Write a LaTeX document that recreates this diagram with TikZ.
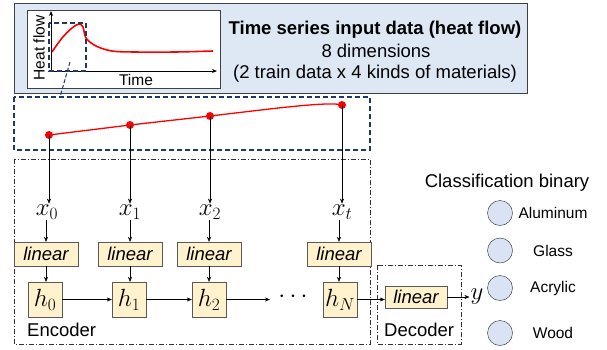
\documentclass[tikz,border=0pt]{standalone}
\usepackage{fontspec}
\setmainfont{Liberation Sans}
\usetikzlibrary{arrows.meta}

\definecolor{panelblue}{HTML}{DEE8F4}
\definecolor{navy}{HTML}{1F3864}
\definecolor{cream}{HTML}{FFF2CC}
\definecolor{nodeblue}{HTML}{DAE3F3}

\tikzset{
	>={Stealth[length=5pt,width=4pt]},
	txt/.style={inner sep=0pt, font=\fontsize{18.5}{21}\selectfont},
	small/.style={inner sep=0pt, font=\fontsize{15.5}{18}\selectfont},
	mathlbl/.style={inner sep=1pt, font=\fontsize{26}{28}\selectfont},
	linbox/.style={draw=black!65, fill=cream, minimum width=64pt, minimum height=24pt, inner sep=0pt, font=\fontsize{18.5}{21}\selectfont\itshape},
	hbox/.style={draw=black!65, fill=cream, minimum width=34pt, minimum height=35pt, inner sep=0pt, font=\fontsize{26}{28}\selectfont},
	rpoint/.style={circle, fill=red, inner sep=0pt, minimum size=8pt},
	classnode/.style={circle, draw=black!85, fill=nodeblue, minimum size=25pt, inner sep=0pt},
	navydash/.style={draw=navy, line width=1.5pt, dash pattern=on 5pt off 3pt},
	dashdot/.style={draw=black!80, line width=0.6pt, dash pattern=on 5pt off 2pt on 1pt off 2pt}
}

\begin{document}
\begin{tikzpicture}[x=1pt, y=-1pt]
	\useasboundingbox (0,0) rectangle (607,349);

	% input data panel
	\draw[black!75, fill=panelblue] (14,3) rectangle (527,93);
	\draw[black!75, fill=white] (27,10) rectangle (220,88);
	\draw[->, thick] (51,71) -- (51,11);
	\draw[->, thick] (51,71) -- (217,71);
	\draw[red, line width=1.6pt] plot[smooth, tension=0.55] coordinates {(52,52) (62,38) (72,28) (79,24) (83,27) (86,38) (96,46) (112,51) (135,52) (175,52) (213,51)};
	\draw[navydash] (49,23) rectangle (86,71);
	\node[small, rotate=90] (hflow) at (39,48) {Heat flow};
	\node[small] (time) at (136,80) {Time};
	\node[txt, font=\fontsize{18.5}{21}\selectfont\bfseries] (title) at (375,30) {Time series input data (heat flow)};
	\node[txt] (dims) at (376,51) {8 dimensions};
	\node[txt] (train) at (375,74) {(2 train data x 4 kinds of materials)};

	% zoomed series
	\draw[navydash] (14,97) rectangle (370,150);
	\draw[navy, line width=1pt, dash pattern=on 4pt off 2pt] (70,62) -- (60,97);
	\node[rpoint] (p0) at (49,135) {};
	\node[rpoint] (p1) at (130,125) {};
	\node[rpoint] (p2) at (210,116) {};
	\node[rpoint] (pt) at (342,105) {};
	\draw[red, line width=1.3pt] (p0.center) -- (p1.center) -- (p2.center) .. controls (270,109) and (330,101) .. (pt.center);

	% encoder / decoder frames
	\draw[dashdot] (14,159) rectangle (370,344);
	\draw[dashdot] (377,265) rectangle (461,344);
	\node[txt, anchor=west] (enc) at (27,330) {Encoder};
	\node[txt, anchor=west] (dec) at (384,330) {Decoder};

	% inputs
	\node[mathlbl] (x0) at (47,212) {$x_0$};
	\node[mathlbl] (x1) at (130,212) {$x_1$};
	\node[mathlbl] (x2) at (210,212) {$x_2$};
	\node[mathlbl] (xt) at (342,212) {$x_t$};

	\node[linbox] (l0) at (46,254) {linear};
	\node[linbox] (l1) at (130,254) {linear};
	\node[linbox] (l2) at (209,254) {linear};
	\node[linbox] (lt) at (339,254) {linear};

	\node[hbox] (h0) at (45,299.5) {$h_0$};
	\node[hbox] (h1) at (129,299.5) {$h_1$};
	\node[hbox] (h2) at (209,299.5) {$h_2$};
	\node[hbox] (hN) at (340,299.5) {$h_N$};
	\node[mathlbl] (dots) at (293,297) {$\cdots$};
	\coordinate (hend) at (270,299.5);

	\foreach \i in {0,1,2,t} {
		\draw[->] (p\i.center) -- (x\i.north -| p\i);
		\draw[->] (x\i.south -| l\i) -- (l\i.north);
	}
	\draw[->] (l0) -- (l0.south |- h0.north);
	\draw[->] (l1) -- (l1.south |- h1.north);
	\draw[->] (l2) -- (l2.south |- h2.north);
	\draw[->] (lt) -- (lt.south |- hN.north);
	\draw[->] (h0) -- (h1);
	\draw[->] (h1) -- (h2);
	\draw[->] (h2) -- (hend);

	% decoder
	\node[linbox, minimum width=62pt, minimum height=22pt] (ld) at (416,297) {linear};
	\node[mathlbl] (y) at (477,297) {$y$};
	\draw[->] (hN.east) -- (hN.east -| ld.west);
	\draw[->] (ld) -- (y);

	% classes
	\node[txt] (clstitle) at (507,183) {Classification binary};
	\node[classnode] (c1) at (500,213) {};
	\node[classnode] (c2) at (500,250.5) {};
	\node[classnode] (c3) at (500,288) {};
	\node[classnode] (c4) at (500,333) {};
	\node[small] (n1) at (553,213) {Aluminum};
	\node[small] (n2) at (553,250.5) {Glass};
	\node[small] (n3) at (553,288) {Acrylic};
	\node[small] (n4) at (553,333) {Wood};
\end{tikzpicture}
\end{document}
